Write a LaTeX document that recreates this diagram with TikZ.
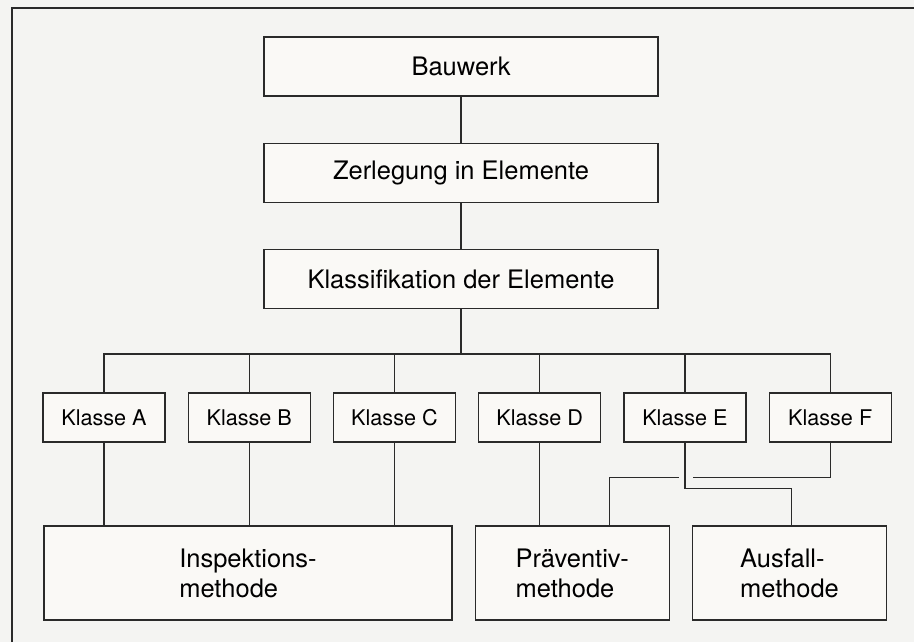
\documentclass[tikz,border=0pt]{standalone}
\usepackage{fontspec}
\setmainfont{TeX Gyre Heros}
\usepackage{tikz}
\usetikzlibrary{positioning,calc}
\definecolor{paper}{HTML}{F4F4F2}
\definecolor{boxfill}{HTML}{FAF9F6}
\definecolor{ink}{HTML}{2A2A2A}

\begin{document}
\begin{tikzpicture}[
  node distance=9.2mm,
  bigbox/.style={draw=ink,fill=boxfill,line width=0.7pt,inner sep=0pt,
                 minimum width=7.88cm,minimum height=1.18cm,align=center,
                 font=\fontsize{14.5}{17}\selectfont},
  klasse/.style={draw=ink,fill=boxfill,line width=0.7pt,inner sep=0pt,
                 minimum width=2.44cm,minimum height=0.98cm,
                 font=\fontsize{12.3}{14}\selectfont},
  methode/.style={draw=ink,fill=boxfill,line width=0.7pt,inner sep=0pt,
                  minimum width=3.88cm,minimum height=1.88cm,align=left,
                  font=\fontsize{14.5}{17}\selectfont},
  ln/.style={draw=ink,line width=0.7pt}
]
\fill[paper] (0,0) rectangle (18.28,-12.84);
\useasboundingbox (0,0) rectangle (18.28,-12.84);
\draw[ln] (0.24,-12.84) |- (18.28,-0.16);

\node[bigbox] (bau) at (9.22,-1.33) {Bauwerk};
\node[bigbox,below=of bau] (zer) {Zerlegung in Elemente};
\node[bigbox,below=of zer] (kla) {Klassifikation der Elemente};

\node[klasse] (ka) at (2.08,-8.35) {Klasse A};
\node[klasse,right=0.44cm of ka] (kb) {Klasse B};
\node[klasse,right=0.44cm of kb] (kc) {Klasse C};
\node[klasse,right=0.44cm of kc] (kd) {Klasse D};
\node[klasse,right=0.44cm of kd] (ke) {Klasse E};
\node[klasse,right=0.44cm of ke] (kf) {Klasse F};

\node[methode,minimum width=8.16cm] (insp) at (4.96,-11.46) {Inspektions-\\methode};
\node[methode,right=0.44cm of insp] (prae) {Präventiv-\\methode};
\node[methode,right=0.44cm of prae] (ausf) {Ausfall-\\methode};

\draw[ln] (bau) -- (zer);
\draw[ln] (zer) -- (kla);

% Verteiler zu den Klassen
\coordinate (bus) at ([yshift=-0.9cm]kla.south);
\draw[ln] (kla.south) -- (bus);
\draw[ln] (ka.north) |- (bus) -| (kf.north);
\foreach \k in {kb,kc,kd,ke}
  \draw[ln] (\k.north) -- (\k.north |- bus);

% Klassen zu den Methoden
\foreach \k in {ka,kb,kc}
  \draw[ln] (\k.south) -- (\k.south |- insp.north);
\draw[ln] (kd.south) -- (kd.south |- prae.north);
\draw[ln] (ke.south) -- ++(0,-0.92) -| ([xshift=0.04cm]ausf.north);
\coordinate (fk) at ([yshift=-0.7cm]kf.south);
\draw[ln] (kf.south) -- (fk) -- ([xshift=0.16cm]fk -| ke.south);
\draw[ln] ([xshift=-0.12cm]fk -| ke.south) -| ([xshift=0.74cm]prae.north);
\end{tikzpicture}
\end{document}
